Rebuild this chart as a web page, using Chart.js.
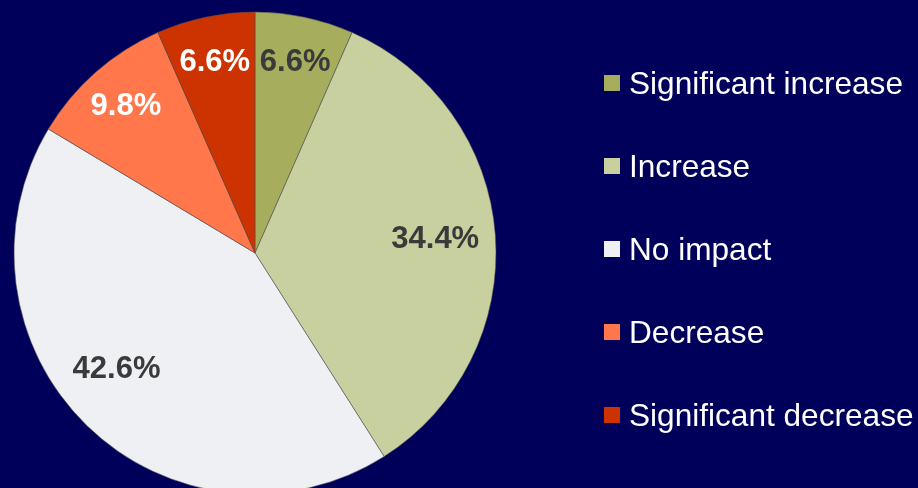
<!DOCTYPE html>
<html>
<head>
<meta charset="utf-8">
<script src="https://cdn.jsdelivr.net/npm/chart.js@4.4.1/dist/chart.umd.min.js"></script>
<style>
  html, body { margin: 0; padding: 0; background: #00005a; }
  #wrap { position: relative; width: 918px; height: 488px; overflow: hidden; }
  #pie { position: absolute; left: 0; top: 0; }
  #legend { position: absolute; left: 604px; top: 0; margin: 0; padding: 0; list-style: none;
            font-family: "Liberation Sans", Arial, sans-serif; font-size: 31.6px; color: #ffffff; }
  #legend li { position: absolute; left: 0; white-space: nowrap; height: 36px; line-height: 36px; }
  #legend .box { position: absolute; left: 0; top: 10px; width: 16px; height: 16px; }
  #legend .txt { position: absolute; left: 25px; top: 0; }
</style>
</head>
<body>
<div id="wrap">
  <canvas id="pie" width="918" height="488"></canvas>
  <ul id="legend"></ul>
</div>
<script>
// Share of responses per category (%)
const categories = ['Significant increase', 'Increase', 'No impact', 'Decrease', 'Significant decrease'];
const shares = [6.6, 34.4, 42.6, 9.8, 6.6];

const sliceColors = ['#a6ae5e', '#c9d0a0', '#eff0f4', '#ff774a', '#cc3300'];
const labelColors = ['#3a3a3a', '#3a3a3a', '#3a3a3a', '#ffffff', '#ffffff'];

// Draws the percentage text inside each slice
const sliceLabels = {
    id: 'sliceLabels',
    afterDatasetsDraw(chart) {
        const ctx = chart.ctx;
        const meta = chart.getDatasetMeta(0);
        ctx.save();
        ctx.font = 'bold 31px "Liberation Sans", Arial, sans-serif';
        ctx.textAlign = 'center';
        ctx.textBaseline = 'middle';
        meta.data.forEach((arc, i) => {
            const p = arc.getProps(['x', 'y', 'startAngle', 'endAngle', 'outerRadius'], true);
            let mid = (p.startAngle + p.endAngle) / 2;
            // the big lower-left slice has its label pushed a little toward the bottom-left
            if (shares[i] > 40) mid += 0.1;
            const r = p.outerRadius * (shares[i] > 20 ? 0.75 : 0.81);
            ctx.fillStyle = labelColors[i];
            ctx.fillText(shares[i].toFixed(1) + '%', p.x + Math.cos(mid) * r, p.y + Math.sin(mid) * r);
        });
        ctx.restore();
    }
};

const chart = new Chart(document.getElementById('pie'), {
    type: 'pie',
    data: {
        labels: categories,
        datasets: [{
            data: shares,
            backgroundColor: sliceColors,
            borderColor: 'rgba(80, 80, 80, 0.8)',
            borderWidth: 0.7
        }]
    },
    options: {
        responsive: false,
        animation: false,
        radius: 241,
        layout: { padding: { left: 0, right: 408, top: 18, bottom: 0 } },
        plugins: {
            legend: { display: false },
            tooltip: { enabled: false }
        }
    },
    plugins: [sliceLabels]
});

// Legend on the right, built from the chart's own labels and colours
const legendEl = document.getElementById('legend');
categories.forEach((name, i) => {
    const li = document.createElement('li');
    li.style.top = (65 + i * 83) + 'px';
    li.innerHTML = '<span class="box" style="background:' + sliceColors[i] + '"></span>' +
                   '<span class="txt">' + name + '</span>';
    legendEl.appendChild(li);
});
</script>
</body>
</html>
